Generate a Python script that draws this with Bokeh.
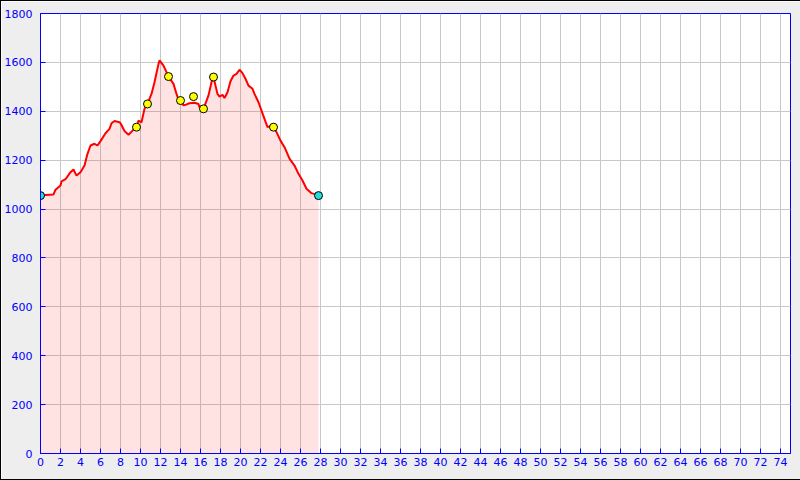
from bokeh.plotting import figure
from bokeh.models import Range1d, FixedTicker
from bokeh.embed import file_html
from bokeh.resources import INLINE

# Elevation profile (distance km, elevation m)
dist_km = [0, 0.5, 1.3, 1.5, 2.0, 2.1, 2.5, 3.0, 3.3, 3.6, 4.0, 4.4, 4.7, 5.0, 5.4, 5.7,
           6.0, 6.5, 6.9, 7.1, 7.4, 7.9, 8.0, 8.4, 8.8, 9.2, 9.6, 9.8, 10.1, 10.4, 10.7,
           11.1, 11.4, 11.8, 11.9, 12.3, 12.6, 12.8, 13.3, 13.6, 13.8, 14.0, 14.3, 14.6,
           14.9, 15.4, 15.8, 15.9, 16.3, 16.8, 17.1, 17.3, 17.5, 17.7, 17.9, 18.2, 18.4,
           18.7, 19.0, 19.3, 19.6, 19.9, 20.2, 20.5, 20.8, 21.2, 21.4, 21.8, 22.1, 22.4,
           22.7, 22.9, 23.3, 23.6, 24.0, 24.4, 24.9, 25.4, 25.8, 26.2, 26.6, 27.1, 27.5, 27.8]
elev_m = [1055, 1058, 1060, 1079, 1096, 1113, 1122, 1151, 1162, 1137, 1151, 1178, 1226, 1260,
          1267, 1260, 1278, 1310, 1328, 1351, 1360, 1355, 1351, 1319, 1304, 1321, 1335, 1362,
          1355, 1410, 1430, 1471, 1519, 1594, 1608, 1587, 1560, 1542, 1512, 1471, 1447, 1444,
          1424, 1428, 1433, 1435, 1430, 1417, 1410, 1465, 1519, 1540, 1505, 1471, 1460, 1467,
          1454, 1478, 1523, 1546, 1553, 1570, 1556, 1533, 1505, 1492, 1471, 1437, 1403, 1369,
          1335, 1338, 1335, 1315, 1280, 1253, 1206, 1178, 1144, 1117, 1083, 1065, 1060, 1055]

# Waypoints
wp_km = [9.6, 10.7, 12.8, 14.0, 15.3, 16.3, 17.3, 23.3]
wp_elev = [1335, 1430, 1542, 1444, 1460, 1410, 1540, 1335]

# Start / end points
se_km = [0, 27.8]
se_elev = [1055, 1055]

x_ticks = list(range(0, 76, 2))
y_ticks = list(range(0, 1801, 200))

p = figure(width=798, height=478, output_backend="svg", toolbar_location=None,
           x_range=Range1d(0, 75), y_range=Range1d(0, 1800),
           frame_width=750, frame_height=440,
           min_border_left=38, min_border_right=10, min_border_top=12, min_border_bottom=26,
           border_fill_color="#eeeeee", background_fill_color="white",
           outline_line_color="#0000ff", outline_line_width=1)
p.styles = {"border": "1px solid black"}

p.varea(x=dist_km, y1=0, y2=elev_m, fill_color="#ff0000", fill_alpha=0.11)
p.line(dist_km, elev_m, line_color="#ff0000", line_width=2)
p.scatter(wp_km, wp_elev, size=8, fill_color="#ffff00", line_color="black", line_width=1)
p.scatter(se_km, se_elev, size=8, fill_color="#22dddd", line_color="black", line_width=1)

for ax in (p.xaxis[0], p.yaxis[0]):
    ax.axis_line_color = "#0000ff"
    ax.major_tick_line_color = "#0000ff"
    ax.major_tick_in = 5
    ax.major_tick_out = 0
    ax.minor_tick_line_color = None
    ax.major_label_text_color = "#0000ff"
    ax.major_label_text_font = "DejaVu Sans"
    ax.major_label_text_font_size = "11px"

p.xaxis.ticker = FixedTicker(ticks=x_ticks)
p.yaxis.ticker = FixedTicker(ticks=y_ticks)
p.xaxis.major_label_standoff = 4
p.yaxis.major_label_standoff = 8

p.xgrid.ticker = FixedTicker(ticks=x_ticks)
p.ygrid.ticker = FixedTicker(ticks=y_ticks)
p.grid.grid_line_color = "#c8c8c8"
p.grid.grid_line_width = 1

open("out.html", "w").write(file_html(p, INLINE))
